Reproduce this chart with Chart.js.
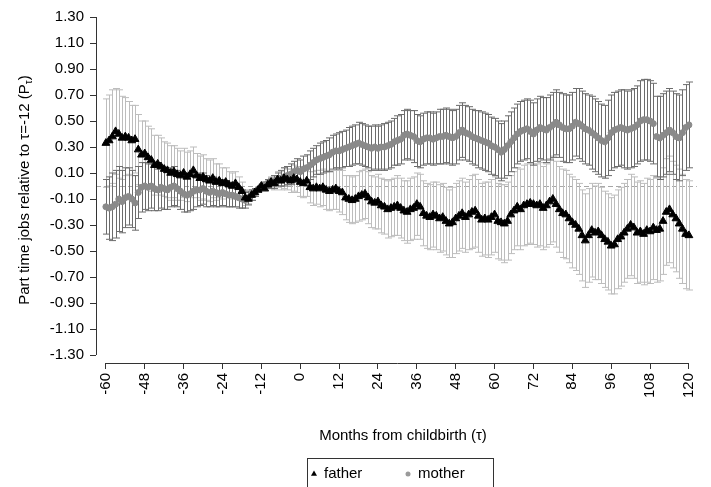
<!DOCTYPE html>
<html>
<head>
<meta charset="utf-8">
<title>Part time jobs around childbirth</title>
<script src="https://cdn.jsdelivr.net/npm/chart.js@4.4.1/dist/chart.umd.min.js"></script>
<style>
    html, body { margin: 0; padding: 0; background: #fff; }
    canvas { display: block; }
</style>
</head>
<body>
<canvas id="event-chart" width="711" height="487"></canvas>
<script>
// Months relative to childbirth (tau), one estimate per month
const months = Array.from({ length: 181 }, (_, i) => i - 60);
const xTicks = [-60, -48, -36, -24, -12, 0, 12, 24, 36, 48, 60, 72, 84, 96, 108, 120];
const yTicks = [-1.3, -1.1, -0.9, -0.7, -0.5, -0.3, -0.1, 0.1, 0.3, 0.5, 0.7, 0.9, 1.1, 1.3];

const fatherValues = [
    0.33, 0.35, 0.38, 0.42, 0.40, 0.37, 0.38, 0.37, 0.35, 0.36,
    0.28, 0.24, 0.25, 0.22, 0.20, 0.16, 0.17, 0.15, 0.13, 0.12,
    0.10, 0.11, 0.09, 0.08, 0.10, 0.07, 0.09, 0.12, 0.08, 0.06,
    0.07, 0.05, 0.04, 0.06, 0.03, 0.04, 0.02, 0.03, 0.01, 0.00,
    0.02, -0.01, -0.04, -0.09, -0.10, -0.07, -0.05, -0.03, 0.00, -0.02,
    0.01, 0.03, 0.02, 0.05, 0.04, 0.06, 0.05, 0.04, 0.06, 0.05,
    0.03, 0.02, 0.04, -0.01, -0.02, -0.01, -0.02, -0.01, -0.03, -0.04,
    -0.03, -0.02, -0.04, -0.05, -0.09, -0.10, -0.11, -0.10, -0.08, -0.07,
    -0.06, -0.09, -0.12, -0.13, -0.12, -0.15, -0.16, -0.18, -0.17, -0.16,
    -0.15, -0.17, -0.19, -0.20, -0.18, -0.17, -0.14, -0.16, -0.21, -0.23,
    -0.24, -0.22, -0.23, -0.25, -0.24, -0.27, -0.29, -0.28, -0.25, -0.23,
    -0.21, -0.24, -0.22, -0.20, -0.19, -0.23, -0.26, -0.25, -0.26, -0.24,
    -0.22, -0.27, -0.28, -0.29, -0.27, -0.22, -0.19, -0.16, -0.18, -0.15,
    -0.14, -0.13, -0.14, -0.15, -0.14, -0.17, -0.15, -0.12, -0.10, -0.14,
    -0.18, -0.21, -0.22, -0.25, -0.28, -0.30, -0.33, -0.38, -0.42, -0.38,
    -0.34, -0.36, -0.35, -0.38, -0.41, -0.43, -0.46, -0.45, -0.41, -0.39,
    -0.36, -0.33, -0.30, -0.32, -0.36, -0.35, -0.37, -0.34, -0.35, -0.32,
    -0.34, -0.33, -0.27, -0.20, -0.18, -0.22, -0.25, -0.29, -0.33, -0.37,
    -0.38
];

// half width of the 95% interval
const fatherCI = [
    0.34, 0.35, 0.36, 0.33, 0.34, 0.32, 0.30, 0.28, 0.27, 0.26,
    0.27, 0.26, 0.25, 0.24, 0.24, 0.23, 0.22, 0.22, 0.21, 0.21,
    0.21, 0.20, 0.20, 0.19, 0.19, 0.19, 0.18, 0.18, 0.17, 0.17,
    0.17, 0.16, 0.16, 0.15, 0.14, 0.13, 0.12, 0.11, 0.10, 0.10,
    0.09, 0.08, 0.07, 0.06, 0.05, 0.04, 0.03, 0.02, 0.00, 0.02,
    0.03, 0.04, 0.05, 0.06, 0.07, 0.08, 0.08, 0.09, 0.10, 0.10,
    0.11, 0.11, 0.12, 0.12, 0.13, 0.13, 0.14, 0.14, 0.15, 0.15,
    0.15, 0.16, 0.16, 0.17, 0.17, 0.18, 0.18, 0.18, 0.19, 0.19,
    0.19, 0.20, 0.20, 0.20, 0.21, 0.21, 0.21, 0.22, 0.22, 0.22,
    0.23, 0.23, 0.23, 0.24, 0.24, 0.24, 0.24, 0.25, 0.25, 0.25,
    0.25, 0.25, 0.26, 0.26, 0.26, 0.26, 0.26, 0.27, 0.27, 0.27,
    0.27, 0.27, 0.27, 0.28, 0.28, 0.28, 0.28, 0.28, 0.29, 0.29,
    0.29, 0.29, 0.29, 0.30, 0.30, 0.30, 0.30, 0.30, 0.31, 0.31,
    0.31, 0.31, 0.31, 0.32, 0.32, 0.32, 0.32, 0.33, 0.33, 0.33,
    0.33, 0.34, 0.34, 0.34, 0.35, 0.35, 0.35, 0.35, 0.36, 0.36,
    0.36, 0.36, 0.37, 0.37, 0.37, 0.37, 0.37, 0.38, 0.38, 0.38,
    0.38, 0.38, 0.39, 0.39, 0.39, 0.39, 0.39, 0.40, 0.40, 0.40,
    0.40, 0.40, 0.41, 0.41, 0.41, 0.41, 0.41, 0.42, 0.42, 0.42,
    0.42
];

const motherValues = [
    -0.16, -0.17, -0.16, -0.14, -0.10, -0.12, -0.09, -0.08, -0.10, -0.13,
    -0.05, -0.01, 0.00, -0.01, 0.00, -0.02, -0.03, -0.01, -0.02, -0.03,
    -0.01, 0.00, -0.02, -0.04, -0.06, -0.07, -0.06, -0.04, -0.03, -0.03,
    -0.02, -0.04, -0.05, -0.04, -0.05, -0.06, -0.05, -0.06, -0.07, -0.07,
    -0.08, -0.09, -0.10, -0.11, -0.09, -0.07, -0.05, -0.03, 0.00, 0.01,
    0.02, 0.02, 0.03, 0.05, 0.06, 0.07, 0.08, 0.09, 0.11, 0.12,
    0.11, 0.13, 0.14, 0.16, 0.18, 0.20, 0.21, 0.22, 0.23, 0.24,
    0.26, 0.27, 0.27, 0.28, 0.29, 0.30, 0.31, 0.32, 0.33, 0.32,
    0.31, 0.30, 0.29, 0.30, 0.29, 0.30, 0.30, 0.31, 0.32, 0.34,
    0.35, 0.36, 0.39, 0.40, 0.39, 0.38, 0.35, 0.34, 0.36, 0.37,
    0.37, 0.36, 0.37, 0.38, 0.38, 0.39, 0.38, 0.37, 0.38, 0.41,
    0.43, 0.41, 0.40, 0.38, 0.37, 0.36, 0.35, 0.34, 0.33, 0.31,
    0.30, 0.28, 0.26, 0.28, 0.31, 0.34, 0.37, 0.40, 0.42, 0.43,
    0.44, 0.42, 0.40, 0.43, 0.45, 0.44, 0.43, 0.45, 0.47, 0.49,
    0.47, 0.45, 0.44, 0.44, 0.46, 0.49, 0.48, 0.46, 0.44, 0.43,
    0.41, 0.39, 0.37, 0.35, 0.34, 0.37, 0.41, 0.43, 0.44, 0.45,
    0.44, 0.43, 0.44, 0.45, 0.47, 0.50, 0.51, 0.51, 0.50, 0.48,
    0.38, 0.37, 0.39, 0.41, 0.43, 0.41, 0.38, 0.37, 0.41, 0.45,
    0.47
];

const motherCI = [
    0.21, 0.24, 0.26, 0.26, 0.25, 0.24, 0.23, 0.22, 0.22, 0.21,
    0.20, 0.19, 0.18, 0.18, 0.17, 0.17, 0.16, 0.16, 0.16, 0.15,
    0.15, 0.15, 0.14, 0.14, 0.14, 0.13, 0.13, 0.14, 0.13, 0.12,
    0.12, 0.12, 0.11, 0.11, 0.11, 0.10, 0.10, 0.10, 0.09, 0.09,
    0.08, 0.08, 0.07, 0.06, 0.05, 0.04, 0.03, 0.02, 0.00, 0.02,
    0.03, 0.04, 0.05, 0.05, 0.06, 0.07, 0.07, 0.08, 0.08, 0.09,
    0.09, 0.10, 0.10, 0.11, 0.11, 0.11, 0.12, 0.12, 0.12, 0.13,
    0.13, 0.13, 0.14, 0.14, 0.14, 0.15, 0.15, 0.15, 0.16, 0.16,
    0.16, 0.16, 0.17, 0.17, 0.17, 0.17, 0.18, 0.18, 0.18, 0.18,
    0.19, 0.19, 0.19, 0.19, 0.19, 0.20, 0.20, 0.20, 0.20, 0.20,
    0.20, 0.20, 0.20, 0.21, 0.21, 0.21, 0.21, 0.21, 0.21, 0.21,
    0.21, 0.21, 0.21, 0.21, 0.21, 0.22, 0.22, 0.22, 0.22, 0.22,
    0.22, 0.22, 0.22, 0.22, 0.23, 0.23, 0.23, 0.23, 0.23, 0.23,
    0.23, 0.24, 0.24, 0.24, 0.24, 0.24, 0.25, 0.25, 0.25, 0.25,
    0.25, 0.26, 0.26, 0.26, 0.26, 0.26, 0.27, 0.27, 0.27, 0.27,
    0.28, 0.28, 0.28, 0.28, 0.28, 0.29, 0.29, 0.29, 0.29, 0.29,
    0.30, 0.30, 0.30, 0.30, 0.30, 0.31, 0.31, 0.31, 0.31, 0.31,
    0.31, 0.32, 0.32, 0.32, 0.32, 0.32, 0.33, 0.33, 0.33, 0.33,
    0.33
];

const fontFamily = '"Liberation Sans", Arial, sans-serif';
const axisColor = '#333';

// vertical interval bars with caps, plus the dashed zero line
const errorBars = {
    id: 'errorBars',
    beforeDatasetsDraw(chart) {
        const { ctx, chartArea, scales: { x, y } } = chart;
        ctx.save();

        const y0 = Math.round(y.getPixelForValue(0)) + 0.5;
        ctx.strokeStyle = '#a6a6a6';
        ctx.lineWidth = 1;
        ctx.setLineDash([5, 3]);
        ctx.beginPath();
        ctx.moveTo(chartArea.left, y0);
        ctx.lineTo(chartArea.right, y0);
        ctx.stroke();
        ctx.setLineDash([]);

        chart.data.datasets.forEach(ds => {
            ctx.strokeStyle = ds.barColor;
            ctx.beginPath();
            ds.data.forEach((pt, i) => {
                const half = ds.ci[i];
                if (!half) return;
                const px = Math.round(x.getPixelForValue(pt.x)) + 0.5;
                const top = y.getPixelForValue(pt.y + half);
                const bot = y.getPixelForValue(pt.y - half);
                ctx.moveTo(px, top);
                ctx.lineTo(px, bot);
                ctx.moveTo(px - 3.5, top);
                ctx.lineTo(px + 3.5, top);
                ctx.moveTo(px - 3.5, bot);
                ctx.lineTo(px + 3.5, bot);
            });
            ctx.stroke();
        });
        ctx.restore();
    }
};

// detached axis lines, axis titles and boxed legend
const decorations = {
    id: 'decorations',
    afterDraw(chart) {
        const { ctx, chartArea, scales: { x, y } } = chart;
        ctx.save();
        ctx.strokeStyle = axisColor;
        ctx.lineWidth = 1;

        // y axis line
        const ax = Math.round(chartArea.left) + 0.5;
        ctx.beginPath();
        ctx.moveTo(ax, y.getPixelForValue(yTicks[yTicks.length - 1]));
        ctx.lineTo(ax, y.getPixelForValue(yTicks[0]));
        ctx.stroke();

        // x axis line
        const ay = Math.round(chartArea.bottom) + 0.5;
        ctx.beginPath();
        ctx.moveTo(x.getPixelForValue(xTicks[0]), ay);
        ctx.lineTo(x.getPixelForValue(xTicks[xTicks.length - 1]), ay);
        ctx.stroke();

        ctx.fillStyle = '#000';
        ctx.textBaseline = 'middle';

        // y title with subscript tau
        ctx.save();
        ctx.translate(25, 190);
        ctx.rotate(-Math.PI / 2);
        const main = 'Part time jobs relative to τ=-12 (P';
        ctx.font = '15px ' + fontFamily;
        const w1 = ctx.measureText(main).width;
        const w3 = ctx.measureText(')').width;
        ctx.font = '10px ' + fontFamily;
        const w2 = ctx.measureText('τ').width;
        let sx = -(w1 + w2 + w3) / 2;
        ctx.textAlign = 'left';
        ctx.font = '15px ' + fontFamily;
        ctx.fillText(main, sx, 0);
        ctx.font = '10px ' + fontFamily;
        ctx.fillText('τ', sx + w1, 4);
        ctx.font = '15px ' + fontFamily;
        ctx.fillText(')', sx + w1 + w2, 0);
        ctx.restore();

        // x title
        ctx.font = '15px ' + fontFamily;
        ctx.textAlign = 'center';
        ctx.fillText('Months from childbirth (τ)', 403, 436);

        // legend
        ctx.strokeStyle = axisColor;
        ctx.strokeRect(307.5, 458.5, 186, 40);
        ctx.textAlign = 'left';
        const legendY = 474;
        const items = [
            { ds: chart.data.datasets[0], mx: 314, tx: 324, r: 3.5 },
            { ds: chart.data.datasets[1], mx: 408, tx: 418, r: 2.5 }
        ];
        items.forEach(item => {
            ctx.fillStyle = item.ds.legendColor;
            ctx.strokeStyle = item.ds.legendColor;
            Chart.helpers.drawPoint(ctx, { pointStyle: item.ds.pointStyle, radius: item.r, rotation: 0, borderWidth: 0 }, item.mx, legendY);
            ctx.fillStyle = '#000';
            ctx.fillText(item.ds.label, item.tx, legendY);
        });

        ctx.restore();
    }
};

const ctx = document.getElementById('event-chart').getContext('2d');
new Chart(ctx, {
    type: 'scatter',
    data: {
        datasets: [
            {
                label: 'father',
                data: months.map((m, i) => ({ x: m, y: fatherValues[i] })),
                ci: fatherCI,
                barColor: '#bdbdbd',
                legendColor: '#000',
                pointStyle: 'triangle',
                pointRadius: 4.5,
                backgroundColor: '#000',
                borderColor: '#000',
                borderWidth: 1
            },
            {
                label: 'mother',
                data: months.map((m, i) => ({ x: m, y: motherValues[i] })),
                ci: motherCI,
                barColor: '#6c6c6c',
                legendColor: '#9a9a9a',
                pointStyle: 'circle',
                pointRadius: 3,
                backgroundColor: '#8a8a8a',
                borderColor: '#8a8a8a',
                borderWidth: 1
            }
        ]
    },
    options: {
        responsive: false,
        animation: false,
        events: [],
        layout: { padding: { top: 17, right: 6, left: 0, bottom: 0 } },
        plugins: {
            legend: { display: false },
            tooltip: { enabled: false }
        },
        scales: {
            x: {
                type: 'linear',
                min: -63.05,
                max: 122.44,
                afterBuildTicks: axis => { axis.ticks = xTicks.map(v => ({ value: v })); },
                afterFit: axis => { axis.height = 124; },
                border: { display: false },
                grid: { drawOnChartArea: false, tickLength: 6, color: axisColor },
                ticks: {
                    autoSkip: false,
                    minRotation: 90,
                    maxRotation: 90,
                    padding: 4,
                    color: '#000',
                    font: { family: fontFamily, size: 15 }
                }
            },
            y: {
                min: -1.3615,
                max: 1.3,
                afterBuildTicks: axis => { axis.ticks = yTicks.map(v => ({ value: v })); },
                afterFit: axis => { axis.width = 96; },
                border: { display: false },
                grid: { drawOnChartArea: false, tickLength: 6, color: axisColor },
                ticks: {
                    padding: 6,
                    color: '#000',
                    font: { family: fontFamily, size: 15 },
                    callback: v => v.toFixed(2)
                }
            }
        }
    },
    plugins: [errorBars, decorations]
});
</script>
</body>
</html>
